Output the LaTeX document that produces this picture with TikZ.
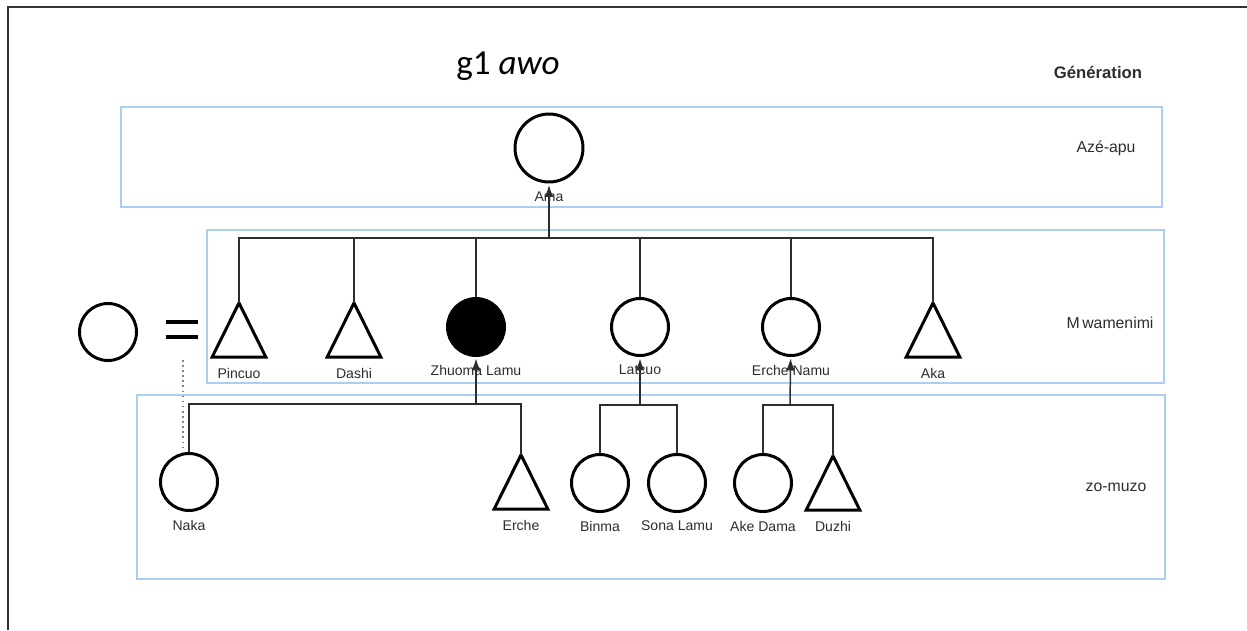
\documentclass[tikz,border=0pt]{standalone}
\usepackage{fontspec}
\setmainfont{Liberation Sans}
\newfontfamily\titlefont{Carlito}
\usetikzlibrary{positioning,arrows.meta}

\definecolor{boxblue}{RGB}{172,206,242}
\definecolor{linegray}{RGB}{45,45,45}
\definecolor{textgray}{RGB}{45,45,45}

\begin{document}
\begin{tikzpicture}[x=0.02cm,y=-0.02cm,label distance=1.5mm,
                    fem/.style={circle,draw,line width=1.7pt,minimum size=1.14cm,inner sep=0pt},
                    ego/.style={fem,fill=black},
                    male/.style={rectangle,minimum width=1.06cm,minimum height=1.07cm,inner sep=0pt,
                                 label={[yshift=-0.07cm]below:#1}},
                    every label/.style={font=\fontsize{8}{9}\selectfont,text=textgray,inner sep=0pt},
                    tree/.style={draw=linegray,line width=0.85pt},
                    up/.style={tree,-{Latex[length=2.4mm,width=1.8mm]},shorten >=0.85pt},
                    genbox/.style={draw=boxblue,line width=1.1pt},
                    gen/.style={font=\fontsize{9}{11}\selectfont,text=textgray}]
  \useasboundingbox (0,0) rectangle (1247,630);

  % frame and generation boxes
  \draw[black!80,line width=0.9pt] (8,630) -- (8,7) -- (1247,7);
  \draw[genbox] (121,107) rectangle (1162,207);
  \draw[genbox] (207,230) rectangle (1164,383);
  \draw[genbox] (137,395) rectangle (1165,579);

  \node[font=\titlefont\fontsize{20}{24}\selectfont] (title) at (508,66) {g1 \textit{awo}};
  \node[font=\bfseries\fontsize{9.5}{11}\selectfont,text=textgray] (gentitle) at (1098,72) {Génération};
  \node[gen] (azeapu) at (1106,148) {Azé-apu};
  \node[gen] (mwamenimi) at (1110,323) {M\,wamenimi};
  \node[gen] (zomuzo) at (1116,487) {zo-muzo};

  \node[fem,minimum size=1.36cm,label=below:Ama] (ama) at (549,148) {};

  \node[male=Pincuo] (pincuo) at (239,330) {};
  \node[male=Dashi] (dashi) at (354,330) {};
  \node[ego,label=below:Zhuoma Lamu] (zhuoma) at (476,327) {};
  \node[fem,label=below:Latcuo] (latcuo) at (640,327) {};
  \node[fem,label=below:Erche Namu] (erchenamu) at (791,327) {};
  \node[male=Aka] (aka) at (933,330) {};
  \node[fem] (wife) at (108,332) {};

  \node[fem,label=below:Naka] (naka) at (189,482) {};
  \node[male=Erche] (erche) at (521,482) {};
  \node[fem,label=below:Binma] (binma) at (600,483) {};
  \node[fem,label=below:Sona Lamu] (sona) at (677,483) {};
  \node[fem,label=below:Ake Dama] (akedama) at (763,483) {};
  \node[male=Duzhi] (duzhi) at (833,483) {};

  \foreach \n in {pincuo,dashi,aka,erche,duzhi}
    \draw[line width=1.7pt] (\n.north) -- (\n.south west) -- (\n.south east) -- cycle;

  % marriage sign
  \draw[line width=2.6pt] (166,322) -- (198,322) (166,337) -- (198,337);

  \coordinate (bar1) at (549,238);
  \coordinate (bar2) at (476,404);
  \coordinate (bar3) at (640,405);
  \coordinate (bar4) at (790,405);
  \coordinate (wed) at (183,360);

  \draw[tree] (pincuo.north) |- (bar1) -| (aka.north);
  \foreach \n in {dashi,zhuoma,latcuo,erchenamu}
    \draw[tree] (\n.north) -- (\n.north |- bar1);
  \draw[up] (bar1) -- (ama);

  \draw[tree] (naka.north) |- (bar2) -| (erche.north);
  \draw[up] (bar2) -- (zhuoma);
  \draw[tree] (binma.north) |- (bar3) -| (sona.north);
  \draw[up] (bar3) -- (latcuo);
  \draw[tree] (akedama.north) |- (bar4) -| (duzhi.north);
  \draw[up] (bar4) -- (erchenamu);

  \draw[gray,dotted,line width=0.9pt] (wed) -- (wed |- naka.north);
\end{tikzpicture}
\end{document}
